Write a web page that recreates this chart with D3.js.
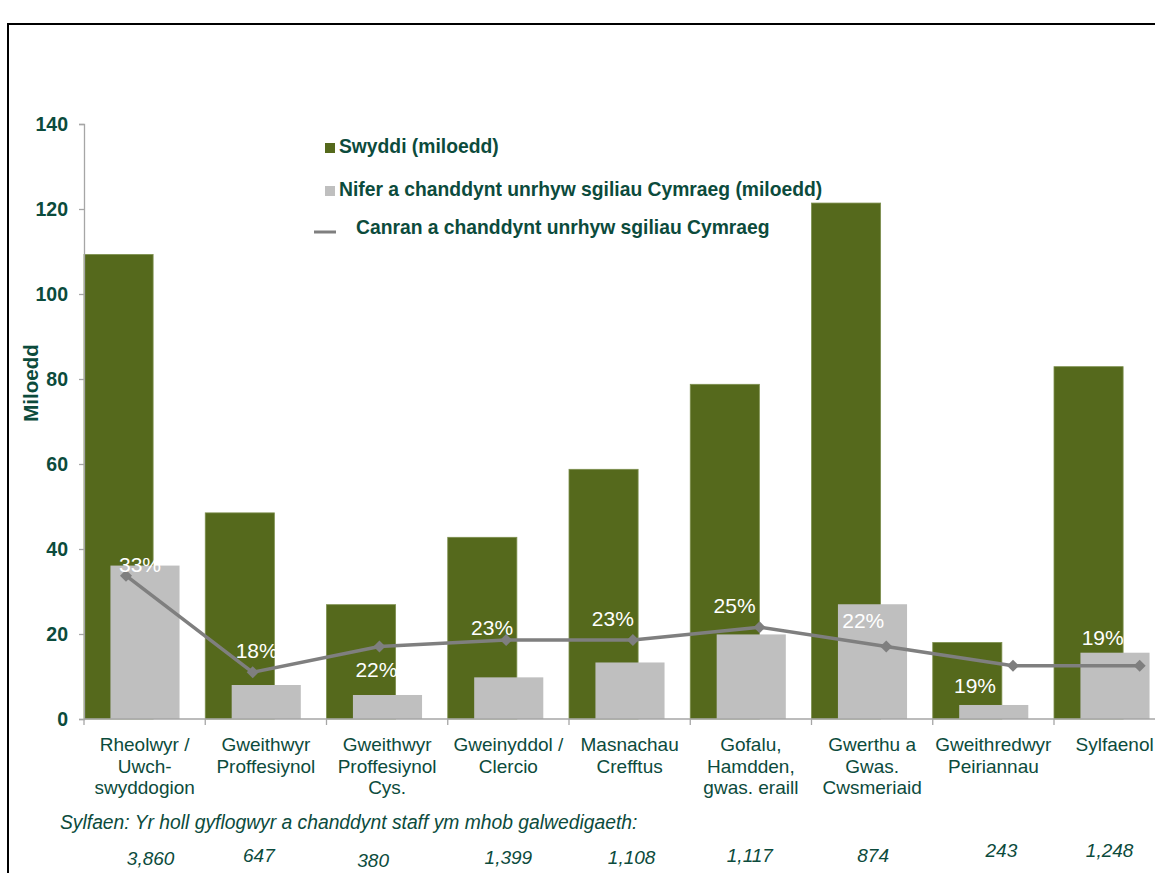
<!DOCTYPE html>
<html>
<head>
<meta charset="utf-8">
<script src="https://cdn.jsdelivr.net/npm/d3@7"></script>
<style>
  html, body { margin: 0; padding: 0; background: #ffffff; }
  svg { display: block; }
  text { font-family: "Liberation Sans", Arial, sans-serif; }
</style>
</head>
<body>
<svg id="chart" width="1155" height="873"></svg>
<script>
// ---------- DATA ----------
const categories = [
  ["Rheolwyr /", "Uwch-", "swyddogion"],
  ["Gweithwyr", "Proffesiynol"],
  ["Gweithwyr", "Proffesiynol", "Cys."],
  ["Gweinyddol /", "Clercio"],
  ["Masnachau", "Crefftus"],
  ["Gofalu,", "Hamdden,", "gwas. eraill"],
  ["Gwerthu a", "Gwas.", "Cwsmeriaid"],
  ["Gweithredwyr", "Peiriannau"],
  ["Sylfaenol"]
];
const jobs = [109.3, 48.5, 26.9, 42.75, 58.75, 78.75, 121.4, 18.0, 82.9];        // Swyddi (miloedd)
const welshSkills = [36.1, 8.0, 5.65, 9.8, 13.3, 19.9, 27.0, 3.3, 15.6];           // Nifer a chanddynt sgiliau Cymraeg
const percent = [33, 18, 22, 23, 23, 25, 22, 19, 19];                              // Canran
const percentLabels = ["33%", "18%", "22%", "23%", "23%", "25%", "22%", "19%", "19%"];
const baseCounts = ["3,860", "647", "380", "1,399", "1,108", "1,117", "874", "243", "1,248"];
const yTicks = [0, 20, 40, 60, 80, 100, 120, 140];
const legendLabels = [
  "Swyddi (miloedd)",
  "Nifer a chanddynt unrhyw sgiliau Cymraeg (miloedd)",
  "Canran a chanddynt unrhyw sgiliau Cymraeg"
];
const yTitle = "Miloedd";
const footnote = "Sylfaen: Yr holl gyflogwyr a chanddynt staff ym mhob galwedigaeth:";

// ---------- LAYOUT (manual offsets as in the original) ----------
const pctLabelOffset = [[14, -4], [4, -14], [-3, 30], [-14, -5], [-20, -14], [-25, -14], [-23, -19], [-38, 27], [-37, -21]];
const baseOffset = [[6, 865], [-7, 862], [-14, 867], [0, 864], [2, 864], [-1, 862], [1, 862], [8, 857], [-5, 857]];

const COL = {
  green: "#55691c",
  greenEdge: "#7d8f4e",
  grey: "#bfbfbf",
  line: "#7f7f7f",
  axis: "#a6a6a6",
  text: "#0c4b3c"
};

const svg = d3.select("#chart");
const idx = d3.range(categories.length);

// scales
const x = d3.scaleBand().domain(idx).range([84, 84 + 9 * 121.25]).paddingInner(0).paddingOuter(0);
const xLine = d3.scalePoint().domain(idx).range([126, 1139.7]);
const y = d3.scaleLinear().domain([0, 140]).range([719, 124]);
const y2 = d3.scaleLinear().domain([0, 100]).range([788.2, 788.2 - 644]);

const bw = x.bandwidth();
const barW = bw * 0.57;
const greyOff = bw * 0.218;

// border
svg.append("path")
  .attr("d", "M8,873 L8,24 L1155,24")
  .attr("fill", "none").attr("stroke", "#000").attr("stroke-width", 2);

// bars - jobs
svg.append("g").selectAll("rect").data(idx).join("rect")
  .attr("x", i => x(i))
  .attr("y", i => y(jobs[i]))
  .attr("width", barW)
  .attr("height", i => y(0) - y(jobs[i]))
  .attr("fill", COL.green)
  .attr("stroke", COL.greenEdge).attr("stroke-width", 0.8);

// bars - welsh skills
svg.append("g").selectAll("rect").data(idx).join("rect")
  .attr("x", i => x(i) + greyOff)
  .attr("y", i => y(welshSkills[i]))
  .attr("width", barW)
  .attr("height", i => y(0) - y(welshSkills[i]))
  .attr("fill", COL.grey);

// y axis
const yAxis = svg.append("g").attr("transform", `translate(${x(0)},0)`)
  .call(d3.axisLeft(y).tickValues(yTicks).tickSize(5).tickPadding(11));
yAxis.select(".domain").attr("stroke", COL.axis).attr("stroke-width", 1.3);
yAxis.selectAll(".tick line").attr("stroke", COL.axis).attr("stroke-width", 1.3);
yAxis.selectAll(".tick text")
  .attr("fill", COL.text).attr("font-size", 19.5).attr("font-weight", "bold")
  .attr("font-family", "Liberation Sans, Arial, sans-serif");

// x axis line + boundary ticks
svg.append("line")
  .attr("x1", x(0)).attr("x2", 1155).attr("y1", y(0)).attr("y2", y(0))
  .attr("stroke", COL.axis).attr("stroke-width", 1.5);
svg.append("g").selectAll("line").data(idx).join("line")
  .attr("x1", i => x(i)).attr("x2", i => x(i))
  .attr("y1", y(0)).attr("y2", y(0) + 6)
  .attr("stroke", COL.axis).attr("stroke-width", 1.3);

// category labels
const catG = svg.append("g").selectAll("text").data(idx).join("text")
  .attr("x", i => x(i) + bw / 2)
  .attr("y", 751)
  .attr("text-anchor", "middle")
  .attr("font-size", 19)
  .attr("fill", COL.text);
catG.selectAll("tspan").data(i => categories[i]).join("tspan")
  .attr("x", function () { return d3.select(this.parentNode).attr("x"); })
  .attr("dy", (d, j) => j === 0 ? 0 : 21.5)
  .text(d => d);

// percentage line
const line = d3.line().x(i => xLine(i)).y(i => y2(percent[i]));
svg.append("path").datum(idx)
  .attr("d", line)
  .attr("fill", "none").attr("stroke", COL.line).attr("stroke-width", 3.5)
  .attr("stroke-linejoin", "round");
svg.append("g").selectAll("path").data(idx).join("path")
  .attr("transform", i => `translate(${xLine(i)},${y2(percent[i])})`)
  .attr("d", "M0,-6 L6,0 L0,6 L-6,0 Z")
  .attr("fill", COL.line);

// percentage labels
svg.append("g").selectAll("text").data(idx).join("text")
  .attr("x", i => xLine(i) + pctLabelOffset[i][0])
  .attr("y", i => y2(percent[i]) + pctLabelOffset[i][1])
  .attr("text-anchor", "middle")
  .attr("font-size", 21)
  .attr("fill", "#ffffff")
  .text(i => percentLabels[i]);

// y title
svg.append("text")
  .attr("transform", "translate(38,383) rotate(-90)")
  .attr("text-anchor", "middle")
  .attr("font-size", 20.5).attr("font-weight", "bold")
  .attr("fill", COL.text)
  .text(yTitle);

// legend
const lg = svg.append("g");
lg.append("rect").attr("x", 325).attr("y", 143).attr("width", 10).attr("height", 10).attr("fill", COL.green);
lg.append("text").attr("x", 339).attr("y", 153).text(legendLabels[0]);
lg.append("rect").attr("x", 325).attr("y", 186).attr("width", 10).attr("height", 10).attr("fill", COL.grey);
lg.append("text").attr("x", 339).attr("y", 196).text(legendLabels[1]);
lg.append("line").attr("x1", 314).attr("x2", 336).attr("y1", 232).attr("y2", 232)
  .attr("stroke", COL.line).attr("stroke-width", 3);
lg.append("text").attr("x", 356).attr("y", 234).text(legendLabels[2]);
lg.selectAll("text").attr("font-size", 19.3).attr("font-weight", "bold").attr("fill", COL.text);

// footnote
svg.append("text")
  .attr("x", 60).attr("y", 829)
  .attr("font-size", 19.3).attr("font-style", "italic")
  .attr("fill", COL.text)
  .text(footnote);

svg.append("g").selectAll("text").data(idx).join("text")
  .attr("x", i => x(i) + bw / 2 + baseOffset[i][0])
  .attr("y", i => baseOffset[i][1])
  .attr("text-anchor", "middle")
  .attr("font-size", 19).attr("font-style", "italic")
  .attr("fill", COL.text)
  .text(i => baseCounts[i]);
</script>
</body>
</html>
